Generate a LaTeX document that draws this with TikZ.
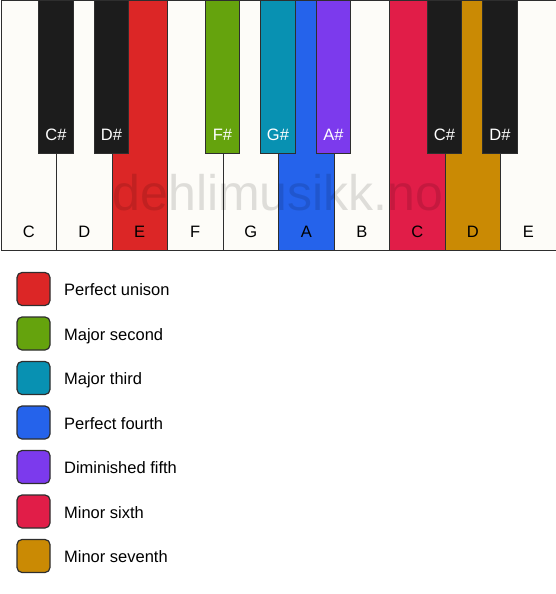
\documentclass[tikz,border=0pt]{standalone}
\usepackage{fontspec}
\setmainfont{Liberation Sans}
\usetikzlibrary{positioning}
\definecolor{keywhite}{HTML}{FDFCF8}
\definecolor{keyblack}{HTML}{1C1C1C}
\definecolor{keyline}{HTML}{2E2E2E}
\definecolor{unisonred}{HTML}{DC2626}
\definecolor{secondgreen}{HTML}{65A30D}
\definecolor{thirdteal}{HTML}{0891B2}
\definecolor{fourthblue}{HTML}{2563EB}
\definecolor{fifthpurple}{HTML}{7C3AED}
\definecolor{sixthrose}{HTML}{E11D48}
\definecolor{seventhgold}{HTML}{CA8A04}
\newcommand{\keyfont}{\fontsize{16.5}{20}\selectfont}
\tikzset{
  whitekey/.style={draw=keyline, fill=keywhite, line width=1pt, minimum width=55.5pt, minimum height=249pt, anchor=north west, inner sep=0pt},
  blackkey/.style={draw=keyline, fill=keyblack, line width=1pt, minimum width=34.5pt, minimum height=152pt, anchor=north, inner sep=0pt},
  keyname/.style={anchor=base, font=\keyfont},
  swatch/.style={draw=keyline, line width=1.2pt, rounded corners=5pt, minimum size=33pt, inner sep=0pt},
  legendtext/.style={anchor=west, font=\keyfont, text height=13pt, text depth=0pt}
}

\begin{document}
\begin{tikzpicture}[x=1pt, y=-1pt]
                \useasboundingbox (0,0) rectangle (556,594);
                \node[whitekey] (wC1) at (0.5,0.5) {};
                \node[whitekey] (wD1) at (56,0.5) {};
                \node[whitekey, fill=unisonred] (wE1) at (111.5,0.5) {};
                \node[whitekey] (wF1) at (167,0.5) {};
                \node[whitekey] (wG1) at (222.5,0.5) {};
                \node[whitekey, fill=fourthblue] (wA1) at (278,0.5) {};
                \node[whitekey] (wB1) at (333.5,0.5) {};
                \node[whitekey, fill=sixthrose] (wC2) at (389,0.5) {};
                \node[whitekey, fill=seventhgold] (wD2) at (444.5,0.5) {};
                \node[whitekey] (wE2) at (500,0.5) {};
                \node[keyname] (nC1) at ([yshift=13.5pt]wC1.south) {C};
                \node[keyname] (nD1) at ([yshift=13.5pt]wD1.south) {D};
                \node[keyname] (nE1) at ([yshift=13.5pt]wE1.south) {E};
                \node[keyname] (nF1) at ([yshift=13.5pt]wF1.south) {F};
                \node[keyname] (nG1) at ([yshift=13.5pt]wG1.south) {G};
                \node[keyname] (nA1) at ([yshift=13.5pt]wA1.south) {A};
                \node[keyname] (nB1) at ([yshift=13.5pt]wB1.south) {B};
                \node[keyname] (nC2) at ([yshift=13.5pt]wC2.south) {C};
                \node[keyname] (nD2) at ([yshift=13.5pt]wD2.south) {D};
                \node[keyname] (nE2) at ([yshift=13.5pt]wE2.south) {E};
                \node[blackkey] (bCs1) at (56,0.5) {};
                \node[blackkey] (bDs1) at (111.5,0.5) {};
                \node[blackkey, fill=secondgreen] (bFs1) at (222.5,0.5) {};
                \node[blackkey, fill=thirdteal] (bGs1) at (278,0.5) {};
                \node[blackkey, fill=fifthpurple] (bAs1) at (333.5,0.5) {};
                \node[blackkey] (bCs2) at (444.5,0.5) {};
                \node[blackkey] (bDs2) at (500,0.5) {};
                \node[keyname, text=white] (nCs1) at ([yshift=13.5pt]bCs1.south) {C\#};
                \node[keyname, text=white] (nDs1) at ([yshift=13.5pt]bDs1.south) {D\#};
                \node[keyname, text=white] (nFs1) at ([yshift=13.5pt]bFs1.south) {F\#};
                \node[keyname, text=white] (nGs1) at ([yshift=13.5pt]bGs1.south) {G\#};
                \node[keyname, text=white] (nAs1) at ([yshift=13.5pt]bAs1.south) {A\#};
                \node[keyname, text=white] (nCs2) at ([yshift=13.5pt]bCs2.south) {C\#};
                \node[keyname, text=white] (nDs2) at ([yshift=13.5pt]bDs2.south) {D\#};
                \node[text=black, opacity=0.12, font=\fontsize{50}{60}\selectfont] (mark) at (278,193) {dehlimusikk.no};
                \node[swatch, fill=unisonred] (s1) at (33.5,289) {};
                \node[swatch, fill=secondgreen] (s2) at (33.5,333.5) {};
                \node[swatch, fill=thirdteal] (s3) at (33.5,378) {};
                \node[swatch, fill=fourthblue] (s4) at (33.5,422.5) {};
                \node[swatch, fill=fifthpurple] (s5) at (33.5,467) {};
                \node[swatch, fill=sixthrose] (s6) at (33.5,511.5) {};
                \node[swatch, fill=seventhgold] (s7) at (33.5,556) {};
                \node[legendtext, right=10pt of s1] (t1) {Perfect unison};
                \node[legendtext, right=10pt of s2] (t2) {Major second};
                \node[legendtext, right=10pt of s3] (t3) {Major third};
                \node[legendtext, right=10pt of s4] (t4) {Perfect fourth};
                \node[legendtext, right=10pt of s5] (t5) {Diminished fifth};
                \node[legendtext, right=10pt of s6] (t6) {Minor sixth};
                \node[legendtext, right=10pt of s7] (t7) {Minor seventh};
                \end{tikzpicture}
\end{document}
